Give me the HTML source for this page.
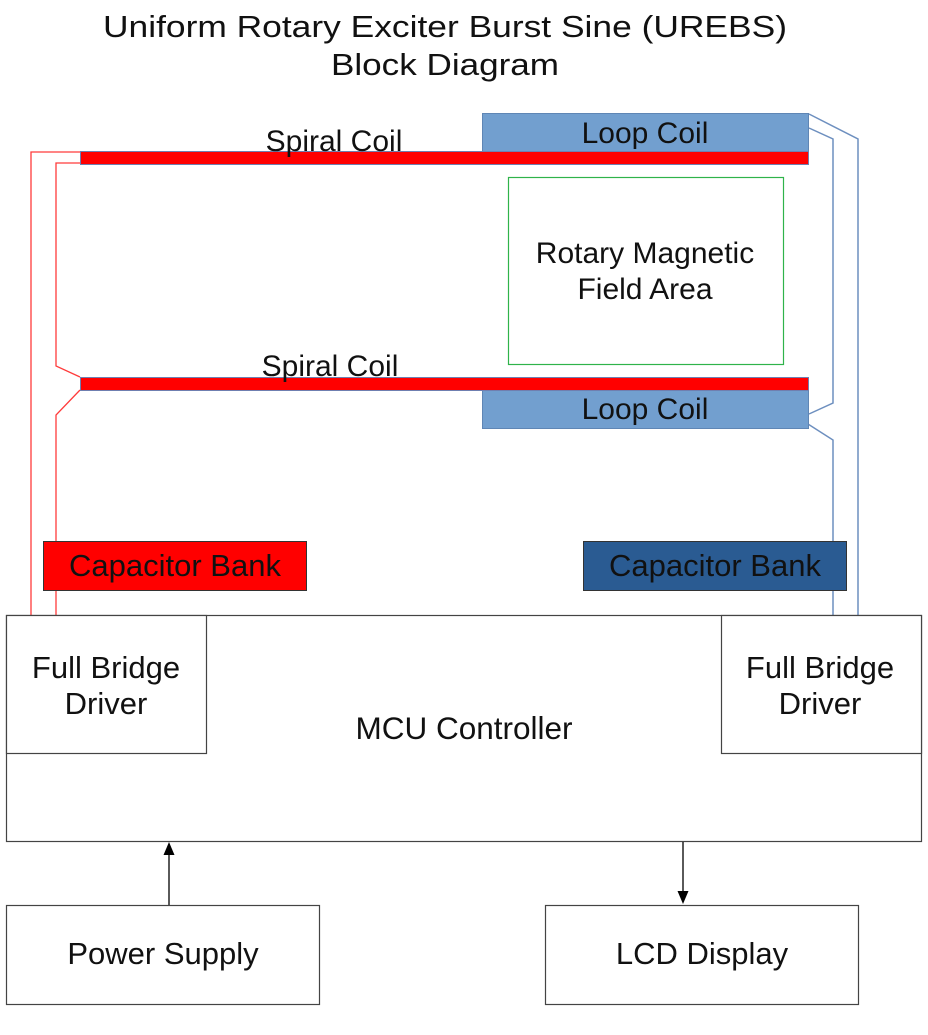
<!DOCTYPE html>
<html><head><meta charset="utf-8"><style>
html,body{margin:0;padding:0;background:#fff;}
svg{display:block;}
text{font-family:"Liberation Sans",sans-serif;fill:#111;}
</style></head><body>
<svg width="928" height="1035" viewBox="0 0 928 1035" xmlns="http://www.w3.org/2000/svg">
<text x="445" y="37" font-size="31" text-anchor="middle" textLength="684" lengthAdjust="spacingAndGlyphs">Uniform Rotary Exciter Burst Sine (UREBS)</text>
<text x="445" y="75" font-size="31" text-anchor="middle" textLength="228" lengthAdjust="spacingAndGlyphs">Block Diagram</text>

<polyline points="80,152 31,152 31,615" fill="none" stroke="#ff3b3b" stroke-width="1.3"/>
<polyline points="80,163 56,163 56,366 80,377" fill="none" stroke="#ff3b3b" stroke-width="1.3"/>
<polyline points="80,390 56,415 56,615" fill="none" stroke="#ff3b3b" stroke-width="1.3"/>

<polyline points="809,114 858,139 858,615" fill="none" stroke="#6d8fbf" stroke-width="1.5"/>
<polyline points="809,128 833,139 833,403 809,414" fill="none" stroke="#6d8fbf" stroke-width="1.5"/>
<polyline points="797,417 833,440 833,615" fill="none" stroke="#6d8fbf" stroke-width="1.5"/>

<rect x="482.5" y="113.5" width="326" height="38" fill="#729fcf" stroke="#5f86b5"/>
<text x="645" y="143" font-size="30" text-anchor="middle">Loop Coil</text>
<rect x="482.5" y="390.5" width="326" height="38" fill="#729fcf" stroke="#5f86b5"/>
<text x="645" y="419" font-size="30" text-anchor="middle">Loop Coil</text>

<rect x="80.5" y="151.5" width="728" height="13" fill="#ff0000" stroke="#6f7fb0"/>
<text x="334" y="151" font-size="30" text-anchor="middle">Spiral Coil</text>
<rect x="80.5" y="377.5" width="728" height="13" fill="#ff0000" stroke="#6f7fb0"/>
<text x="330" y="376" font-size="30" text-anchor="middle">Spiral Coil</text>

<rect x="508.5" y="177.5" width="275" height="187" fill="none" stroke="#2fb34a" stroke-width="1.2"/>
<text x="645" y="263" font-size="30" text-anchor="middle">Rotary Magnetic</text>
<text x="645" y="299" font-size="30" text-anchor="middle">Field Area</text>

<rect x="43.5" y="541.5" width="263" height="49" fill="#ff0000" stroke="#333"/>
<text x="175" y="576" font-size="31" text-anchor="middle">Capacitor Bank</text>
<rect x="583.5" y="541.5" width="263" height="49" fill="#2a5b92" stroke="#333"/>
<text x="715" y="576" font-size="31" text-anchor="middle">Capacitor Bank</text>

<rect x="6.5" y="615.5" width="915" height="226" fill="#fff" stroke="#444" stroke-width="1.2"/>
<text x="464" y="739" font-size="31.5" text-anchor="middle">MCU Controller</text>
<rect x="6.5" y="615.5" width="200" height="138" fill="#fff" stroke="#444" stroke-width="1.2"/>
<text x="106" y="678" font-size="31" text-anchor="middle">Full Bridge</text>
<text x="106" y="714" font-size="31" text-anchor="middle">Driver</text>
<rect x="721.5" y="615.5" width="200" height="138" fill="#fff" stroke="#444" stroke-width="1.2"/>
<text x="820" y="678" font-size="31" text-anchor="middle">Full Bridge</text>
<text x="820" y="714" font-size="31" text-anchor="middle">Driver</text>

<line x1="169" y1="905" x2="169" y2="852" stroke="#000" stroke-width="1.3"/>
<polygon points="169,842 163.5,855 174.5,855" fill="#000"/>
<line x1="683" y1="842" x2="683" y2="893" stroke="#000" stroke-width="1.3"/>
<polygon points="683,904 677.5,891 688.5,891" fill="#000"/>

<rect x="6.5" y="905.5" width="313" height="99" fill="#fff" stroke="#444" stroke-width="1.2"/>
<text x="163" y="964" font-size="31" text-anchor="middle">Power Supply</text>
<rect x="545.5" y="905.5" width="313" height="99" fill="#fff" stroke="#444" stroke-width="1.2"/>
<text x="702" y="964" font-size="31" text-anchor="middle">LCD Display</text>
</svg>
</body></html>
